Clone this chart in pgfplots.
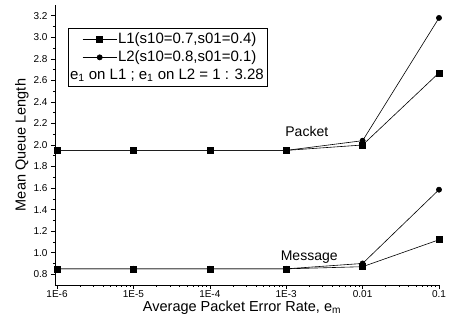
\documentclass[border=0pt]{standalone}
\usepackage{pgfplots}
\pgfplotsset{compat=1.18}
\usepackage{fontspec}
\setmainfont{Liberation Sans}
\begin{document}
\begin{tikzpicture}[x=1pt,y=1pt]
\path[use as bounding box] (-55,-41) rectangle (397,285);
\begin{axis}[
  at={(0,0)}, anchor=south west,
  scale only axis, width=384pt, height=280pt,
  xmode=log, xmin=9.4e-7, xmax=0.1, ymin=0.7, ymax=3.3,
  axis lines=left, axis line style={-, line width=0.8pt},
  clip=false,
  xtick={1e-6,1e-5,1e-4,1e-3,1e-2,1e-1},
  xticklabels={1E-6,1E-5,1E-4,1E-3,0.01,0.1},
  minor xtick={2e-6,3e-6,4e-6,5e-6,6e-6,7e-6,8e-6,9e-6,
               2e-5,3e-5,4e-5,5e-5,6e-5,7e-5,8e-5,9e-5,
               2e-4,3e-4,4e-4,5e-4,6e-4,7e-4,8e-4,9e-4,
               2e-3,3e-3,4e-3,5e-3,6e-3,7e-3,8e-3,9e-3,
               2e-2,3e-2,4e-2,5e-2,6e-2,7e-2,8e-2,9e-2},
  ytick={0.8,1.0,1.2,1.4,1.6,1.8,2.0,2.2,2.4,2.6,2.8,3.0,3.2},
  yticklabel style={/pgf/number format/fixed, /pgf/number format/fixed zerofill, /pgf/number format/precision=1},
  minor y tick num=1,
  tick align=outside, major tick length=4pt, minor tick length=2pt,
  tick style={black, line width=0.6pt},
  ticklabel style={font=\fontsize{10}{12}\selectfont},
  xticklabel style={yshift=2pt},
  /pgf/number format/assume math mode=true,
  xlabel={Average Packet Error Rate, e\textsubscript{m}},
  ylabel={Mean Queue Length},
  label style={font=\fontsize{14.5}{16}\selectfont},
  xlabel style={at={(axis description cs:0.487,-0.082)}, anchor=center},
  ylabel style={at={(axis description cs:-0.086,0.5)}, anchor=center},
  legend cell align=left,
  legend image code/.code={\path (0pt,0pt); \draw[mark repeat=2,mark phase=2,#1] plot coordinates {(11pt,0pt) (28pt,0pt) (45pt,0pt)};},
  legend style={at={(axis description cs:0.0339,0.918)}, anchor=north west,
    draw=black, line width=0.8pt, inner xsep=3pt, inner ysep=3pt,
    font=\fontsize{15}{17}\selectfont, row sep=2pt,
    nodes={inner sep=1pt, text height=11pt, text depth=3pt}},
]
\addplot[black, line width=0.6pt, mark=square*, mark size=3pt] coordinates {(1e-6,1.95)(1e-5,1.95)(1e-4,1.95)(1e-3,1.95)(1e-2,2.0)(1e-1,2.67)};
\addlegendentry{L1(s10=0.7,s01=0.4)}
\addplot[black, line width=0.6pt, mark=*, mark size=2.6pt] coordinates {(1e-6,1.95)(1e-5,1.95)(1e-4,1.95)(1e-3,1.95)(1e-2,2.04)(1e-1,3.18)};
\addlegendentry{L2(s10=0.8,s01=0.1)}
\addplot[black, line width=0.6pt, mark=square*, mark size=3pt, forget plot] coordinates {(1e-6,0.85)(1e-5,0.85)(1e-4,0.85)(1e-3,0.85)(1e-2,0.87)(1e-1,1.12)};
\addplot[black, line width=0.6pt, mark=*, mark size=2.6pt, forget plot] coordinates {(1e-6,0.85)(1e-5,0.85)(1e-4,0.85)(1e-3,0.85)(1e-2,0.90)(1e-1,1.585)};
\addlegendimage{empty legend}
\addlegendentry{\hspace{-48pt}e\textsubscript{1} on L1 ; e\textsubscript{1} on L2 = 1 : 3.28\hspace{8pt}}
\node[font=\fontsize{14}{16}\selectfont] at (axis cs:1.86e-3,2.126) {Packet};
\node[font=\fontsize{14}{16}\selectfont] at (axis cs:2e-3,0.96) {Message};
\end{axis}
\end{tikzpicture}
\end{document}
